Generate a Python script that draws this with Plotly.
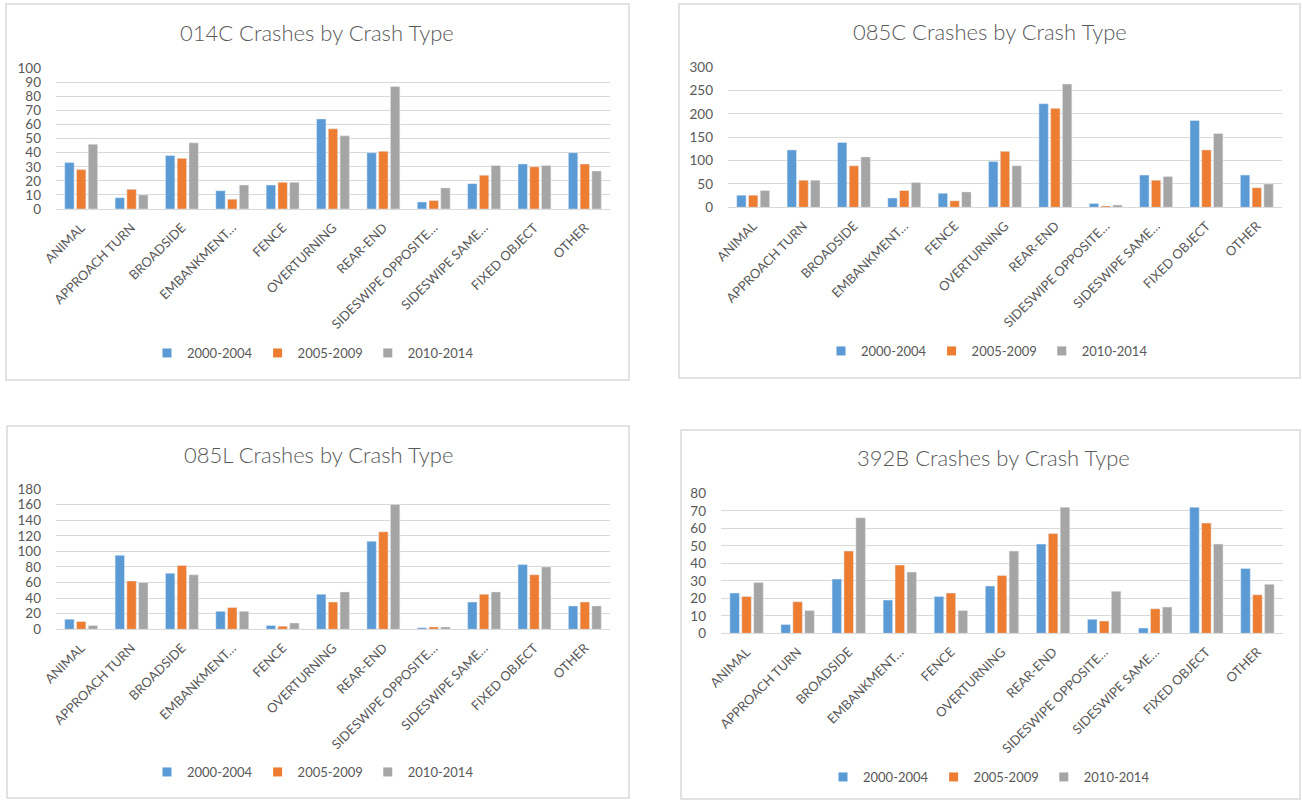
import plotly.graph_objects as go

# Crash type categories (long names are truncated the way the axis shows them)
categories = ["ANIMAL", "APPROACH TURN", "BROADSIDE", "EMBANKMENT…", "FENCE",
              "OVERTURNING", "REAR-END", "SIDESWIPE OPPOSITE…", "SIDESWIPE SAME…",
              "FIXED OBJECT", "OTHER"]
periods = ["2000-2004", "2005-2009", "2010-2014"]
colors = ["#5B9BD5", "#ED7D31", "#A5A5A5"]

# Crash counts per location, one list per period
c014_2000 = [33, 8, 38, 13, 17, 64, 40, 5, 18, 32, 40]
c014_2005 = [28, 14, 36, 7, 19, 57, 41, 6, 24, 30, 32]
c014_2010 = [46, 10, 47, 17, 19, 52, 87, 15, 31, 31, 27]

c085c_2000 = [26, 123, 139, 20, 30, 98, 222, 8, 69, 186, 69]
c085c_2005 = [26, 58, 89, 36, 14, 120, 212, 3, 58, 123, 42]
c085c_2010 = [36, 58, 108, 53, 33, 89, 264, 5, 66, 158, 50]

c085l_2000 = [13, 95, 72, 23, 5, 45, 113, 2, 35, 83, 30]
c085l_2005 = [10, 62, 82, 28, 4, 35, 125, 3, 45, 70, 35]
c085l_2010 = [5, 60, 70, 23, 8, 48, 160, 3, 48, 80, 30]

c392b_2000 = [23, 5, 31, 19, 21, 27, 51, 8, 3, 72, 37]
c392b_2005 = [21, 18, 47, 39, 23, 33, 57, 7, 14, 63, 22]
c392b_2010 = [29, 13, 66, 35, 13, 47, 72, 24, 15, 51, 28]

titles = ["014C Crashes by Crash Type", "085C Crashes by Crash Type",
          "085L Crashes by Crash Type", "392B Crashes by Crash Type"]
y_max = [100, 300, 180, 80]
y_step = [10, 50, 20, 10]

panels = [
    [c014_2000, c014_2005, c014_2010],
    [c085c_2000, c085c_2005, c085c_2010],
    [c085l_2000, c085l_2005, c085l_2010],
    [c392b_2000, c392b_2005, c392b_2010],
]

W, H = 1302, 801


def px_x(x):
    return x / W


def px_y(y):
    return 1 - y / H


# Panel geometry in pixels: plot area, frame, title and legend anchors
plot_areas = [(56, 68.3, 610, 209), (728, 67.3, 1282, 207.3),
              (56, 489, 610, 629.3), (721, 493.3, 1283, 633.3)]
frames = [(6, 4, 629, 380), (679, 4, 1300, 378),
          (7, 426, 629, 798), (681, 430, 1300, 799)]
title_pos = [(317, 33), (990, 32), (318, 454), (993, 458)]
legend_pos = [(313, 353), (987, 351), (313, 772), (989, 777)]

FONT = "Lato, 'Open Sans', sans-serif"
TXT = "#595959"
GRID = "#D9D9D9"

fig = go.Figure()
layout = dict(
    width=W, height=H,
    margin=dict(l=0, r=0, t=0, b=0, autoexpand=False),
    paper_bgcolor="white", plot_bgcolor="white",
    barmode="group", bargap=0.3, bargroupgap=0.2,
    font=dict(family=FONT, color=TXT, size=12),
    shapes=[], annotations=[],
)

for i, series in enumerate(panels):
    n = i + 1
    xa = "x" if n == 1 else f"x{n}"
    ya = "y" if n == 1 else f"y{n}"
    lg = "legend" if n == 1 else f"legend{n}"
    for name, vals, col in zip(periods, series, colors):
        fig.add_trace(go.Bar(
            x=categories, y=vals, name=name, marker_color=col,
            xaxis=xa, yaxis=ya, offsetgroup=name, showlegend=False,
        ))
    # small square swatches for the legend of this panel
    for name, col in zip(periods, colors):
        fig.add_trace(go.Scatter(
            x=[None], y=[None], mode="markers", name=name,
            marker=dict(symbol="square", size=9, color=col),
            xaxis=xa, yaxis=ya, legend=lg, showlegend=True, hoverinfo="skip",
        ))

    x0, y0, x1, y1 = plot_areas[i]
    xkey = "xaxis" if n == 1 else f"xaxis{n}"
    ykey = "yaxis" if n == 1 else f"yaxis{n}"
    layout[xkey] = dict(
        domain=[px_x(x0), px_x(x1)], anchor=ya, automargin=False,
        tickangle=-45, showgrid=False, showline=True, linecolor=GRID,
        linewidth=1, ticks="", ticklabelstandoff=5,
        tickfont=dict(size=13, color=TXT, family=FONT),
        fixedrange=True,
    )
    layout[ykey] = dict(
        domain=[px_y(y1), px_y(y0)], anchor=xa, automargin=False,
        range=[0, y_max[i]], dtick=y_step[i], tick0=0,
        showgrid=True, gridcolor=GRID, gridwidth=1, zeroline=False,
        showline=False, ticks="", ticklabelstandoff=14,
        tickfont=dict(size=13.5, color=TXT, family=FONT), fixedrange=True,
    )

    lx, ly = legend_pos[i]
    layout[lg] = dict(
        orientation="h", x=px_x(lx), y=px_y(ly),
        xanchor="center", yanchor="middle",
        bgcolor="rgba(0,0,0,0)", itemwidth=30,
        font=dict(size=13, color=TXT, family=FONT),
        itemclick=False, itemdoubleclick=False,
    )

    fx0, fy0, fx1, fy1 = frames[i]
    layout["shapes"].append(dict(
        type="rect", xref="paper", yref="paper",
        x0=px_x(fx0), x1=px_x(fx1), y0=px_y(fy1), y1=px_y(fy0),
        line=dict(color=GRID, width=1.5), fillcolor="rgba(0,0,0,0)", layer="below",
    ))

    tx, ty = title_pos[i]
    layout["annotations"].append(dict(
        text=titles[i], xref="paper", yref="paper",
        x=px_x(tx), y=px_y(ty), xanchor="center", yanchor="middle",
        showarrow=False, font=dict(size=22, color=TXT, family=FONT, weight=300),
    ))

fig.update_layout(**layout)

# Remove the default page margin so the figure fills the window exactly
page_css = ("document.body.style.margin='0';"
            "document.body.style.padding='0';"
            "document.body.style.overflow='hidden';")
fig.write_html("out.html", post_script=page_css)
